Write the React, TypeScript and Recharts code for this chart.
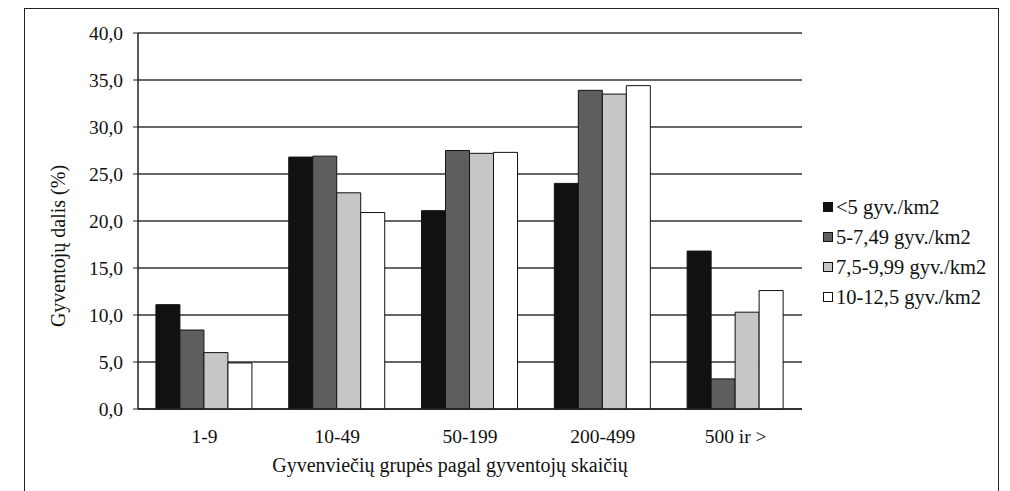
import * as React from 'react';
import { BarChart, Bar, XAxis, YAxis, CartesianGrid } from 'recharts';

const groups = ['1-9', '10-49', '50-199', '200-499', '500 ir >'];
const below5 = [11.1, 26.8, 21.1, 24.0, 16.8];
const from5to749 = [8.4, 26.9, 27.5, 33.9, 3.2];
const from75to999 = [6.0, 23.0, 27.2, 33.5, 10.3];
const from10to125 = [4.9, 20.9, 27.3, 34.4, 12.6];
const yTicks = [0, 5, 10, 15, 20, 25, 30, 35, 40];

const seriesNames = ['<5 gyv./km2', '5-7,49 gyv./km2', '7,5-9,99 gyv./km2', '10-12,5 gyv./km2'];
const seriesColors = ['#111111', '#5e5e5e', '#c6c6c6', '#ffffff'];

const data = groups.map((g, i) => ({
  group: g,
  s0: below5[i],
  s1: from5to749[i],
  s2: from75to999[i],
  s3: from10to125[i],
}));

const font = '"Liberation Serif", serif';

function LegendBox() {
  return <div style={{ position: 'absolute', left: 823, top: 192, fontFamily: font, fontSize: 20.5, color: '#111' }}>
    {seriesNames.map((n, i) => <div key={n} style={{ display: 'flex', alignItems: 'center', height: 30, whiteSpace: 'nowrap' }}>
      <span style={{ display: 'inline-block', width: 8, height: 8, background: seriesColors[i], border: '1px solid #111', marginRight: 3 }} />
      <span>{n}</span>
    </div>)}
  </div>
}

export default function App() {
  return <div style={{ position: 'absolute', left: 0, top: 0, width: 1010, height: 491, background: '#fff', overflow: 'hidden' }}>
    <div style={{ position: 'absolute', left: 24, top: 8, width: 973, height: 500, borderLeft: '1.5px solid #222', borderTop: '1.5px solid #222', borderRight: '1.5px solid #222' }} />
    <div style={{ position: 'absolute', left: 0, top: 0 }}>
      <BarChart width={1010} height={491} data={data} barGap={0} barCategoryGap="13.5%"
        margin={{ top: 33, right: 208, bottom: 52, left: 78 }}>
        <CartesianGrid vertical={false} stroke="#333" strokeWidth={1.3} />
        <XAxis dataKey="group" tickLine={false} axisLine={{ stroke: '#222', strokeWidth: 1.5 }} height={30}
          tick={{ fill: '#111', fontSize: 19.5, fontFamily: font }} tickMargin={14}
          label={{ value: 'Gyvenviečių grupės pagal gyventojų skaičių', position: 'insideBottom', offset: -33, dx: -20, fill: '#111', fontSize: 20, fontFamily: font }} />
        <YAxis domain={[0, 40]} ticks={yTicks} width={60} interval={0}
          tickFormatter={(v: number) => v.toFixed(1).replace('.', ',')}
          tickSize={5} tickMargin={10} tickLine={{ stroke: '#222' }} axisLine={{ stroke: '#222', strokeWidth: 1.5 }}
          tick={{ fill: '#111', fontSize: 19.5, fontFamily: font }}
          label={{ value: 'Gyventojų dalis (%)', angle: -90, position: 'insideLeft', offset: -20, dy: 25, style: { textAnchor: 'middle' }, fill: '#111', fontSize: 20, fontFamily: font }} />
        <YAxis yAxisId="r" orientation="right" width={0} tick={false} tickLine={false} domain={[0, 40]}
          axisLine={{ stroke: '#222', strokeWidth: 1.3 }} />
        {['s0', 's1', 's2', 's3'].map((k, i) => <Bar key={k} dataKey={k} name={seriesNames[i]}
          fill={seriesColors[i]} stroke="#111" strokeWidth={1} isAnimationActive={false} />)}
      </BarChart>
    </div>
    <LegendBox />
  </div>
}
